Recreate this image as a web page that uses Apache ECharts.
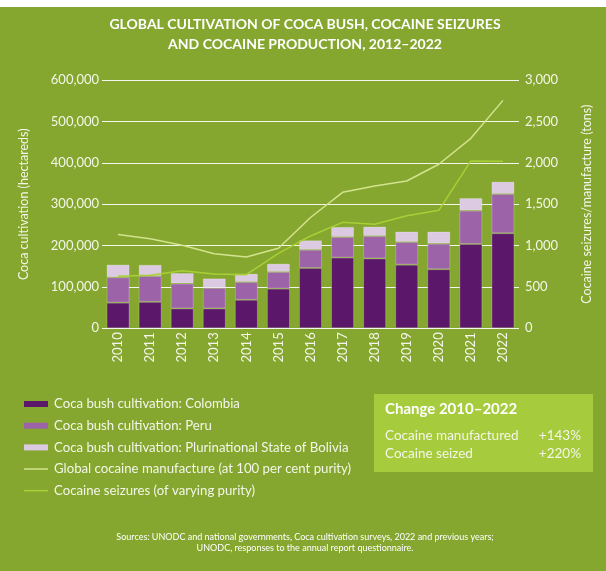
<!DOCTYPE html>
<html>
<head>
<meta charset="utf-8">
<script src="https://cdn.jsdelivr.net/npm/echarts@6/dist/echarts.min.js"></script>
<style>
  html, body { margin: 0; padding: 0; background: #ffffff; }
  #chart { width: 606px; height: 571px; }
</style>
</head>
<body>
<div id="chart"></div>
<script>
// Years on the category axis
const years = ['2010', '2011', '2012', '2013', '2014', '2015', '2016', '2017', '2018', '2019', '2020', '2021', '2022'];

// Coca bush cultivation (hectares), stacked by country
const colombia = [62000, 64000, 48000, 48000, 69000, 96000, 146000, 171000, 169000, 154000, 143000, 204000, 230000];
const peru = [61200, 62500, 60400, 49800, 42900, 40300, 43900, 49900, 54100, 54700, 61800, 80700, 95000];
const bolivia = [31000, 27200, 25300, 23000, 20400, 20200, 23100, 24500, 23100, 25500, 29400, 30500, 29900];

// Cocaine (tons)
const manufacture = [1134, 1084, 1004, 903, 863, 968, 1340, 1645, 1722, 1782, 1984, 2298, 2757];
const seizures = [631, 641, 697, 657, 649, 907, 1117, 1282, 1258, 1362, 1427, 2025, 2022];

// Change box rows
const changeRows = [
  ['Cocaine manufactured', '+143%'],
  ['Cocaine seized', '+220%']
];

const FONT = 'Lato';
const GREEN = '#85a72f';
const TXT = '#f3f6e8';

const chart = echarts.init(document.getElementById('chart'), null, { renderer: 'canvas' });

const fmt = v => v.toLocaleString('en-US');

const barStyle = c => ({
  color: c,
  borderColor: 'rgba(255,255,255,0.22)',
  borderWidth: 1
});

chart.setOption({
  backgroundColor: '#ffffff',
  animation: false,
  textStyle: { fontFamily: FONT },
  graphic: [
    {
      type: 'rect', z: -10, silent: true,
      shape: { x: 0, y: 7, width: 606, height: 564 },
      style: { fill: GREEN }
    },
    {
      type: 'text', z: 2, x: 305, y: 14,
      style: {
        text: 'GLOBAL CULTIVATION OF COCA BUSH, COCAINE SEIZURES\nAND COCAINE PRODUCTION, 2012\u20132022',
        fill: '#ffffff', font: 'bold 14px ' + FONT, lineHeight: 20, align: 'center', verticalAlign: 'top'
      }
    },
    {
      type: 'rect', z: 1,
      shape: { x: 374, y: 394, width: 219, height: 78 },
      style: { fill: '#a6cb3c' }
    },
    {
      type: 'text', z: 2, x: 385, y: 402,
      style: { text: 'Change 2010\u20132022', fill: '#ffffff', font: 'bold 15px ' + FONT, verticalAlign: 'top' }
    },
    {
      type: 'text', z: 2, x: 385, y: 427,
      style: { text: changeRows.map(r => r[0]).join('\n'), fill: TXT, font: '13.5px ' + FONT, lineHeight: 18, verticalAlign: 'top' }
    },
    {
      type: 'text', z: 2, x: 581, y: 427,
      style: { text: changeRows.map(r => r[1]).join('\n'), fill: TXT, font: '13.5px ' + FONT, lineHeight: 18, align: 'right', verticalAlign: 'top' }
    },
    {
      type: 'text', z: 2, x: 305, y: 532,
      style: {
        text: 'Sources: UNODC and national governments, Coca cultivation surveys, 2022 and previous years;\nUNODC, responses to the annual report questionnaire.',
        fill: '#ffffff', font: '9px ' + FONT, lineHeight: 11, align: 'center', verticalAlign: 'top'
      }
    }
  ],
  legend: [
    {
      orient: 'vertical', left: 19, top: 392,
      itemWidth: 24, itemHeight: 6, itemGap: 7.7, icon: 'rect',
      itemStyle: { borderWidth: 0 },
      textStyle: { color: TXT, fontSize: 13.2, fontFamily: FONT, lineHeight: 14, padding: [0, 0, 0, 1] },
      data: ['Coca bush cultivation: Colombia', 'Coca bush cultivation: Peru', 'Coca bush cultivation: Plurinational State of Bolivia']
    },
    {
      orient: 'vertical', left: 19, top: 457,
      itemWidth: 24, itemHeight: 1.5, itemGap: 7.7, icon: 'rect',
      itemStyle: { borderWidth: 0 },
      textStyle: { color: TXT, fontSize: 13.2, fontFamily: FONT, lineHeight: 14, padding: [0, 0, 0, 1] },
      data: ['Global cocaine manufacture (at 100 per cent purity)', 'Cocaine seizures (of varying purity)']
    }
  ],
  grid: { left: 102, right: 87, top: 80.3, bottom: 242.7, containLabel: false },
  xAxis: {
    type: 'category',
    data: years,
    boundaryGap: true,
    axisLine: { show: false },
    axisTick: { show: false },
    axisLabel: { rotate: 90, color: TXT, fontSize: 13, fontFamily: FONT, margin: 4 }
  },
  yAxis: [
    {
      type: 'value', min: 0, max: 600000, interval: 100000,
      name: 'Coca cultivation (hectareds)',
      nameLocation: 'middle', nameRotate: 90, nameGap: 72,
      nameTextStyle: { color: TXT, fontSize: 12.5, fontFamily: FONT },
      axisLine: { show: false }, axisTick: { show: false },
      axisLabel: { color: TXT, fontSize: 13, fontFamily: FONT, margin: 3, formatter: fmt },
      splitLine: { lineStyle: { color: 'rgba(255,255,255,0.9)', width: 1 } }
    },
    {
      type: 'value', min: 0, max: 3000, interval: 500, position: 'right',
      name: 'Cocaine seizures/manufacture (tons)',
      nameLocation: 'middle', nameRotate: 90, nameGap: 61,
      nameTextStyle: { color: TXT, fontSize: 12.5, fontFamily: FONT },
      axisLine: { show: false }, axisTick: { show: false },
      axisLabel: { color: TXT, fontSize: 13, fontFamily: FONT, margin: 6, formatter: fmt },
      splitLine: { show: false }
    }
  ],
  series: [
    { name: 'Coca bush cultivation: Colombia', type: 'bar', stack: 'coca', barWidth: 23, data: colombia, itemStyle: barStyle('#5b1769'), z: 2 },
    { name: 'Coca bush cultivation: Peru', type: 'bar', stack: 'coca', barWidth: 23, data: peru, itemStyle: barStyle('#9d63a9'), z: 2 },
    { name: 'Coca bush cultivation: Plurinational State of Bolivia', type: 'bar', stack: 'coca', barWidth: 23, data: bolivia, itemStyle: barStyle('#dccae3'), z: 2 },
    {
      name: 'Global cocaine manufacture (at 100 per cent purity)', type: 'line', yAxisIndex: 1,
      data: manufacture, symbol: 'none', z: 5,
      lineStyle: { color: '#d3e38e', width: 1.5 }, itemStyle: { color: '#d3e38e' }
    },
    {
      name: 'Cocaine seizures (of varying purity)', type: 'line', yAxisIndex: 1,
      data: seizures, symbol: 'none', z: 5,
      lineStyle: { color: '#a9cf36', width: 1.5 }, itemStyle: { color: '#a9cf36' }
    }
  ]
});
</script>
</body>
</html>
